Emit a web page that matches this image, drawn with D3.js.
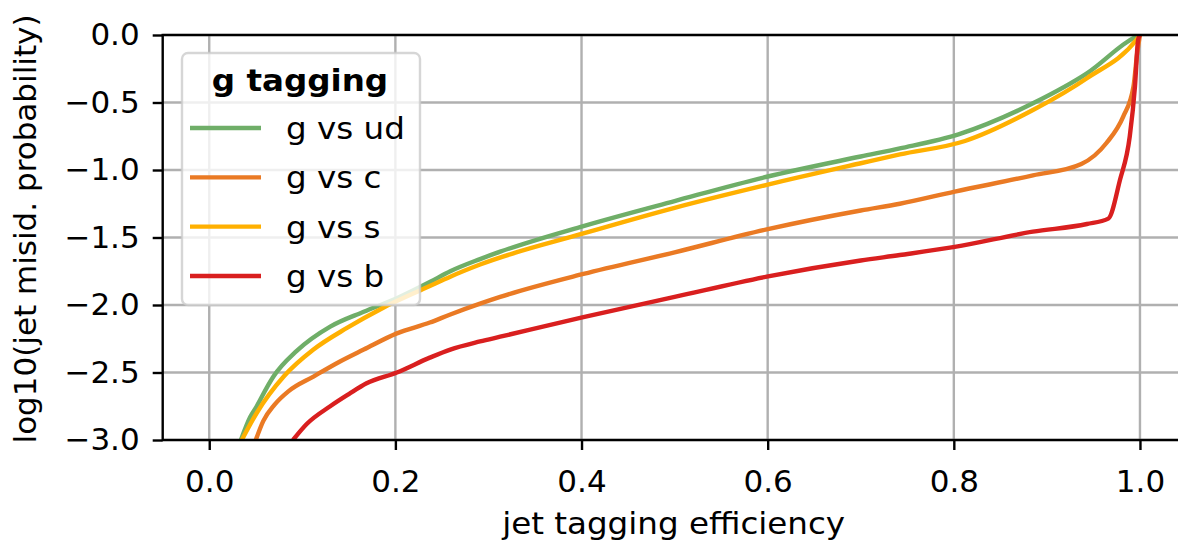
<!DOCTYPE html>
<html>
<head>
<meta charset="utf-8">
<script src="https://cdn.jsdelivr.net/npm/d3@7"></script>
<style>
  html, body { margin: 0; padding: 0; background: #fff; }
  svg { display: block; font-family: "DejaVu Sans", sans-serif; }
</style>
</head>
<body>
<svg id="chart" width="1178" height="543"></svg>
<script>
// Misidentification curves for gluon tagging against each background flavour
const seriesNames = ["g vs ud", "g vs c", "g vs s", "g vs b"];
const seriesColors = ["#6fae68", "#ea7a24", "#ffb000", "#d91f1f"];

const effUD = [0.034, 0.044, 0.051, 0.062, 0.069, 0.094, 0.130, 0.166, 0.2016, 0.237, 0.259, 0.291, 0.3126, 0.402, 0.50, 0.599, 0.70, 0.742, 0.805, 0.885, 0.943, 0.996, 1.0];
const misUD = [-3.0, -2.83, -2.75, -2.61, -2.53, -2.34, -2.16, -2.05, -1.95, -1.83, -1.75, -1.66, -1.605, -1.415, -1.23, -1.05, -0.90, -0.84, -0.736, -0.506, -0.284, -0.012, 0.0];

const effC = [0.050, 0.058, 0.070, 0.085, 0.112, 0.140, 0.166, 0.2016, 0.237, 0.259, 0.291, 0.3126, 0.402, 0.50, 0.599, 0.70, 0.742, 0.801, 0.885, 0.937, 0.964, 0.982, 0.993, 0.997, 1.0];
const misC = [-3.0, -2.86, -2.74, -2.64, -2.53, -2.42, -2.33, -2.21, -2.13, -2.07, -1.99, -1.94, -1.77, -1.61, -1.44, -1.30, -1.25, -1.16, -1.04, -0.956, -0.80, -0.605, -0.383, -0.136, 0.0];

const effS = [0.035, 0.051, 0.080, 0.112, 0.148, 0.187, 0.237, 0.259, 0.291, 0.402, 0.50, 0.599, 0.70, 0.742, 0.812, 0.885, 0.943, 0.996, 1.0];
const misS = [-3.0, -2.80, -2.53, -2.33, -2.17, -2.02, -1.86, -1.79, -1.70, -1.47, -1.28, -1.11, -0.95, -0.885, -0.785, -0.556, -0.32, -0.037, 0.0];

const effB = [0.090, 0.105, 0.130, 0.150, 0.169, 0.2016, 0.237, 0.259, 0.291, 0.3126, 0.402, 0.50, 0.599, 0.70, 0.742, 0.801, 0.885, 0.943, 0.966, 0.9785, 0.989, 0.9946, 0.998, 1.0];
const misB = [-3.0, -2.88, -2.75, -2.66, -2.58, -2.50, -2.39, -2.33, -2.27, -2.235, -2.09, -1.94, -1.79, -1.67, -1.63, -1.57, -1.457, -1.40, -1.36, -1.074, -0.753, -0.383, -0.037, 0.0];

const xTicks = [0.0, 0.2, 0.4, 0.6, 0.8, 1.0];
const yTicks = [0.0, -0.5, -1.0, -1.5, -2.0, -2.5, -3.0];
const legendTitle = "g tagging";
const xTitle = "jet tagging efficiency";
const yTitle = "log10(jet misid. probability)";

const series = [
  { name: seriesNames[0], color: seriesColors[0], eff: effUD, mis: misUD },
  { name: seriesNames[1], color: seriesColors[1], eff: effC, mis: misC },
  { name: seriesNames[2], color: seriesColors[2], eff: effS, mis: misS },
  { name: seriesNames[3], color: seriesColors[3], eff: effB, mis: misB }
];

const svg = d3.select("#chart");
const plot = { left: 162.7, top: 35, right: 1186.5, bottom: 440 };
const tickFont = 31;
const labelFont = 31;
const stretch = 1.05;   // slightly widened glyphs for titles and legend entries

const x = d3.scaleLinear().domain([-0.05, 1.05]).range([plot.left, plot.right]);
const y = d3.scaleLinear().domain([-3.0, 0.0]).range([plot.bottom, plot.top]);

svg.append("defs").append("clipPath").attr("id", "plot-clip")
  .append("rect")
  .attr("x", plot.left).attr("y", plot.top)
  .attr("width", plot.right - plot.left).attr("height", plot.bottom - plot.top);

// grid
const grid = svg.append("g").attr("stroke", "#b0b0b0").attr("stroke-width", 2.4);
grid.selectAll("line.vx").data(xTicks).join("line")
  .attr("x1", d => x(d)).attr("x2", d => x(d))
  .attr("y1", plot.top).attr("y2", plot.bottom);
grid.selectAll("line.hy").data(yTicks).join("line")
  .attr("x1", plot.left).attr("x2", plot.right)
  .attr("y1", d => y(d)).attr("y2", d => y(d));

// curves
const line = d3.line().x(d => x(d[0])).y(d => y(d[1])).curve(d3.curveMonotoneX);
const curves = svg.append("g").attr("clip-path", "url(#plot-clip)");
series.forEach(s => {
  curves.append("path")
    .datum(s.eff.map((e, i) => [e, s.mis[i]]))
    .attr("d", line)
    .attr("fill", "none")
    .attr("stroke", s.color)
    .attr("stroke-width", 4.4)
    .attr("stroke-linejoin", "round")
    .attr("stroke-linecap", "butt");
});

// axes
const xAxis = d3.axisBottom(x).tickValues(xTicks).tickFormat(d3.format(".1f"))
  .tickSize(10).tickPadding(20);
const yAxis = d3.axisLeft(y).tickValues(yTicks)
  .tickFormat(d => (d < 0 ? "\u2212" : "") + Math.abs(d).toFixed(1))
  .tickSize(10).tickPadding(13);

const gx = svg.append("g").attr("transform", `translate(0,${plot.bottom})`).call(xAxis);
const gy = svg.append("g").attr("transform", `translate(${plot.left},0)`).call(yAxis);
[gx, gy].forEach(g => {
  g.select(".domain").remove();
  g.selectAll(".tick line").attr("stroke", "#000").attr("stroke-width", 2.4);
  g.selectAll(".tick text").attr("font-size", tickFont).attr("fill", "#000")
    .attr("font-family", "DejaVu Sans");
});

// frame
svg.append("rect")
  .attr("x", plot.left).attr("y", plot.top)
  .attr("width", plot.right - plot.left).attr("height", plot.bottom - plot.top)
  .attr("fill", "none").attr("stroke", "#000").attr("stroke-width", 2.4);

// axis titles
svg.append("g").attr("transform", `translate(${(plot.left + plot.right) / 2 - 1},534) scale(${stretch},1)`)
  .append("text")
  .attr("text-anchor", "middle").attr("font-size", labelFont).attr("fill", "#000")
  .text(xTitle);
svg.append("text")
  .attr("transform", `translate(36,229) rotate(-90)`)
  .attr("text-anchor", "middle").attr("font-size", labelFont).attr("fill", "#000")
  .text(yTitle);

// legend
const leg = svg.append("g");
leg.append("rect")
  .attr("x", 182).attr("y", 53).attr("width", 238).attr("height", 252)
  .attr("rx", 6).attr("ry", 6)
  .attr("fill", "#fff").attr("fill-opacity", 0.8)
  .attr("stroke", "#cccccc").attr("stroke-opacity", 0.8).attr("stroke-width", 2.4);
leg.append("g").attr("transform", `translate(300,91) scale(${stretch},1)`)
  .append("text")
  .attr("text-anchor", "middle").attr("font-size", labelFont).attr("font-weight", "bold")
  .attr("fill", "#000").text(legendTitle);
const rowY = d3.scaleLinear().domain([0, series.length - 1]).range([128, 276]);
series.forEach((s, i) => {
  leg.append("line")
    .attr("x1", 190).attr("x2", 261)
    .attr("y1", rowY(i)).attr("y2", rowY(i))
    .attr("stroke", s.color).attr("stroke-width", 4.4);
  leg.append("g").attr("transform", `translate(286,${rowY(i) + 11}) scale(${stretch},1)`)
    .append("text")
    .attr("font-size", labelFont).attr("fill", "#000")
    .text(s.name);
});
</script>
</body>
</html>
